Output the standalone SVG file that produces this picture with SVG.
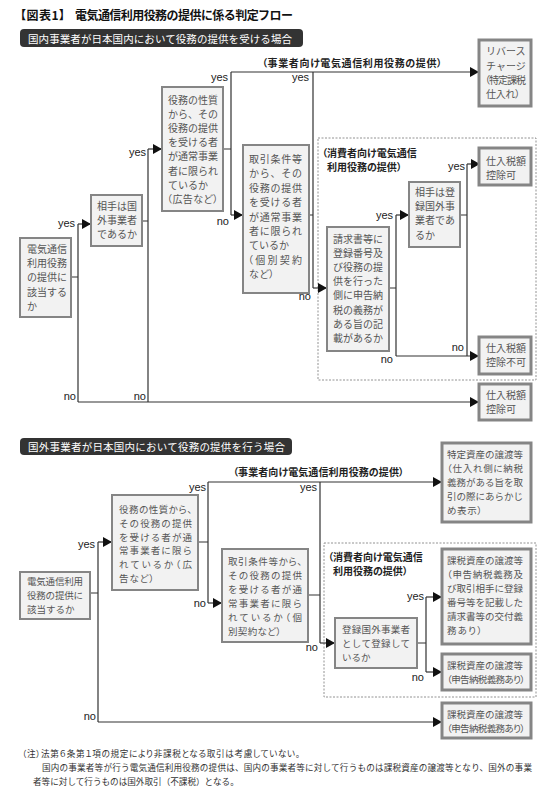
<svg xmlns="http://www.w3.org/2000/svg" width="550" height="795" viewBox="0 0 550 795">
<style>
.jp{font-family:"Noto Sans CJK JP","Noto Sans CJK SC",sans-serif;}
.p{font-feature-settings:"palt" 1;}
.ttl{font-size:12px;font-weight:bold;fill:#111;}
.hd{font-size:10.5px;fill:#fff;}
.bar{fill:#333;}
.nt{font-size:10px;fill:#555;}
.nt2{font-size:9.5px;fill:#555;}
.grp{font-size:10px;font-weight:bold;fill:#222;}
.lb{font-family:"Liberation Sans",Arial,sans-serif;font-size:11px;fill:#222;text-anchor:end;}
.box{fill:#f2f2f2;stroke:#858585;stroke-width:2;}
.out{fill:#f2f2f2;stroke:#858585;stroke-width:3;}
.ln{fill:none;stroke:#333;stroke-width:1.2;}
.ar{fill:none;stroke:#333;stroke-width:1.2;marker-end:url(#ah);}
.dash{fill:none;stroke:#777;stroke-width:0.8;stroke-dasharray:2 1.5;}
.note{font-size:8.6px;fill:#333;}
</style>
<defs>
<marker id="ah" markerUnits="userSpaceOnUse" markerWidth="9" markerHeight="10" refX="9" refY="5" orient="auto">
<path d="M0,0 L9,5 L0,10 z" fill="#111"/>
</marker>
</defs>

<g id="title" class="jp ttl">
<text class="p" x="20" y="19.5" textLength="45">【図表1】</text>
<text x="75" y="19.5" textLength="218">電気通信利用役務の提供に係る判定フロー</text>
</g>

<g id="header1">
<rect class="bar" x="20" y="29" width="283" height="18" rx="4"/>
<text class="jp hd" x="28" y="42.5" textLength="264">国内事業者が日本国内において役務の提供を受ける場合</text>
</g>

<g id="group1-consumer">
<rect class="dash" x="318" y="138" width="218" height="242"/>
<text class="jp grp p" x="322" y="156.5">（消費者向け電気通信</text>
<text class="jp grp p" x="327" y="171">利用役務の提供）</text>
</g>

<g id="connectors1">
<path class="ln" d="M71,277 H78 M78,224 V402"/>
<path class="ar" d="M78,224 H91"/>
<path class="ar" d="M78,402 H479"/>
<path class="ln" d="M142,221 H148 M148,149 V402"/>
<path class="ar" d="M148,149 H162"/>
<path class="ln" d="M223,149 H231 M231,72 V215"/>
<path class="ar" d="M231,215 H243"/>
<path class="ar" d="M231,72 H479"/>
<path class="ln" d="M309,215 H313 M313,72 V288"/>
<path class="ar" d="M313,288 H327"/>
<path class="ln" d="M389,288 H396 M396,215 V356"/>
<path class="ar" d="M396,215 H409"/>
<path class="ar" d="M396,356 H479"/>
<path class="ln" d="M460,215 H467 M467,164 V356"/>
<path class="ar" d="M467,164 H480"/>
<text class="jp grp p" x="262" y="67" textLength="180">（事業者向け電気通信利用役務の提供）</text>
<text class="lb" x="75" y="227">yes</text>
<text class="lb" x="76" y="400">no</text>
<text class="lb" x="146" y="156">yes</text>
<text class="lb" x="146" y="400">no</text>
<text class="lb" x="228" y="81">yes</text>
<text class="lb" x="229" y="225">no</text>
<text class="lb" x="309" y="81">yes</text>
<text class="lb" x="311" y="300">no</text>
<text class="lb" x="393" y="219">yes</text>
<text class="lb" x="393" y="363">no</text>
<text class="lb" x="465" y="170">yes</text>
<text class="lb" x="464" y="351">no</text>
</g>

<g id="n1-A">
<rect class="box" x="20" y="238" width="51" height="79"/>
<text class="jp nt" x="27"><tspan x="27" y="253">電気通信</tspan><tspan x="27" y="267">利用役務</tspan><tspan x="27" y="281">の提供に</tspan><tspan x="27" y="296">該当する</tspan><tspan x="27" y="310">か</tspan></text>
</g>
<g id="n1-B">
<rect class="box" x="91" y="195" width="51" height="51"/>
<text class="jp nt"><tspan x="97" y="210">相手は国</tspan><tspan x="97" y="224">外事業者</tspan><tspan x="97" y="238">であるか</tspan></text>
</g>
<g id="n1-C">
<rect class="box" x="162" y="87" width="61" height="124"/>
<text class="jp nt"><tspan x="168" y="103.5">役務の性質</tspan><tspan x="168" y="117.7">から、その</tspan><tspan x="168" y="131.9">役務の提供</tspan><tspan x="168" y="146.1">を受ける者</tspan><tspan x="168" y="160.3">が通常事業</tspan><tspan x="168" y="174.5">者に限られ</tspan><tspan x="168" y="188.7">ているか</tspan></text>
<text class="jp nt p" x="167" y="202.9" textLength="51">（広告など）</text>
</g>
<g id="n1-D" class="jp nt">
<rect class="box" x="243" y="145" width="66" height="148"/>
<text x="249" y="163" textLength="53">取引条件等</text>
<text x="249" y="177.4" textLength="53">から、その</text>
<text x="249" y="191.8" textLength="53">役務の提供</text>
<text x="249" y="206.2" textLength="53">を受ける者</text>
<text x="249" y="220.6" textLength="53">が通常事業</text>
<text x="249" y="235" textLength="53">者に限られ</text>
<text x="249" y="249.4">ているか</text>
<text class="p" x="248" y="263.8" textLength="54">（個別契約</text>
<text class="p" x="249" y="278.2" textLength="25">など）</text>
</g>
<g id="n1-E">
<rect class="box" x="327" y="227" width="62" height="124"/>
<text class="jp nt"><tspan x="333" y="242.5">請求書等に</tspan><tspan x="333" y="256.7">登録番号及</tspan><tspan x="333" y="270.9">び役務の提</tspan><tspan x="333" y="285.1">供を行った</tspan><tspan x="333" y="299.3">側に申告納</tspan><tspan x="333" y="313.5">税の義務が</tspan><tspan x="333" y="327.7">ある旨の記</tspan><tspan x="333" y="341.9">載があるか</tspan></text>
</g>
<g id="n1-F">
<rect class="box" x="409" y="182" width="51" height="65"/>
<text class="jp nt"><tspan x="415" y="196">相手は登</tspan><tspan x="415" y="210.2">録国外事</tspan><tspan x="415" y="224.4">業者であ</tspan><tspan x="415" y="238.6">るか</tspan></text>
</g>
<g id="n1-G" class="jp nt">
<rect class="out" x="479" y="148" width="52" height="37"/>
<text x="486" y="164.5" textLength="40">仕入税額</text>
<text x="486" y="178.7">控除可</text>
</g>
<g id="n1-H" class="jp nt">
<rect class="out" x="479" y="40" width="52" height="66"/>
<text x="486" y="55.3">リバース</text>
<text x="486" y="69.6">チャージ</text>
<text class="p" x="485" y="83.9" textLength="41">（特定課税</text>
<text class="p" x="486" y="98.2" textLength="34">仕入れ）</text>
</g>
<g id="n1-I" class="jp nt">
<rect class="out" x="479" y="337" width="52" height="37"/>
<text x="486" y="352" textLength="40">仕入税額</text>
<text x="486" y="366.3" textLength="40">控除不可</text>
</g>
<g id="n1-J" class="jp nt">
<rect class="out" x="479" y="384" width="52" height="36"/>
<text x="486" y="398.5" textLength="40">仕入税額</text>
<text x="486" y="412.8">控除可</text>
</g>

<g id="header2">
<rect class="bar" x="20" y="438" width="272" height="17" rx="4"/>
<text class="jp hd" x="28" y="451" textLength="257">国外事業者が日本国内において役務の提供を行う場合</text>
</g>

<g id="group2-consumer">
<rect class="dash" x="324" y="543" width="212" height="154"/>
<text class="jp grp p" x="328" y="560.5">（消費者向け電気通信</text>
<text class="jp grp p" x="333" y="575">利用役務の提供）</text>
</g>

<g id="connectors2">
<path class="ln" d="M90,593 H98 M98,542 V722"/>
<path class="ar" d="M98,542 H112"/>
<path class="ar" d="M98,722 H442"/>
<path class="ln" d="M198,542 H208 M208,482 V603"/>
<path class="ar" d="M208,603 H222"/>
<path class="ar" d="M208,482 H442"/>
<path class="ln" d="M308,595 H320 M320,482 V643"/>
<path class="ar" d="M320,643 H335"/>
<path class="ln" d="M417,643 H426 M426,597 V672"/>
<path class="ar" d="M426,597 H442"/>
<path class="ar" d="M426,672 H442"/>
<text class="jp grp p" x="233" y="476" textLength="171">（事業者向け電気通信利用役務の提供）</text>
<text class="lb" x="95" y="548">yes</text>
<text class="lb" x="96" y="720">no</text>
<text class="lb" x="206" y="491">yes</text>
<text class="lb" x="206" y="607">no</text>
<text class="lb" x="317" y="491">yes</text>
<text class="lb" x="318" y="651">no</text>
<text class="lb" x="424" y="600">yes</text>
<text class="lb" x="424" y="681">no</text>
</g>

<g id="n2-A" class="jp nt2">
<rect class="box" x="20" y="572" width="70" height="47"/>
<text x="27" y="584.5" textLength="56">電気通信利用</text>
<text x="27" y="598.6" textLength="56">役務の提供に</text>
<text x="27" y="612.7">該当するか</text>
</g>
<g id="n2-B" class="jp nt2">
<rect class="box" x="112" y="495" width="86" height="95"/>
<text class="p" x="119" y="512.5" textLength="73">役務の性質から、</text>
<text x="119" y="526.5" textLength="73">その役務の提供</text>
<text x="119" y="540.5" textLength="73">を受ける者が通</text>
<text x="119" y="554.4" textLength="73">常事業者に限ら</text>
<text class="p" x="119" y="568.4" textLength="73">れているか（広</text>
<text class="p" x="119" y="582.3" textLength="35">告など）</text>
</g>
<g id="n2-D" class="jp nt2">
<rect class="box" x="222" y="549" width="86" height="93"/>
<text class="p" x="228" y="565" textLength="74">取引条件等から、</text>
<text x="228" y="579" textLength="74">その役務の提供</text>
<text x="228" y="593" textLength="74">を受ける者が通</text>
<text x="228" y="607" textLength="74">常事業者に限ら</text>
<text class="p" x="228" y="621" textLength="74">れているか（個</text>
<text class="p" x="228" y="635" textLength="53">別契約など）</text>
</g>
<g id="n2-E" class="jp nt2">
<rect class="box" x="335" y="618" width="82" height="50"/>
<text x="342" y="633" textLength="68">登録国外事業者</text>
<text x="342" y="647" textLength="68">として登録して</text>
<text x="342" y="661">いるか</text>
</g>
<g id="n2-F" class="jp nt2">
<rect class="out" x="442" y="443" width="89" height="79"/>
<text x="447" y="457.5" textLength="76">特定資産の譲渡等</text>
<text class="p" x="447" y="471.6" textLength="76">（仕入れ側に納税</text>
<text x="447" y="485.7" textLength="76">義務がある旨を取</text>
<text x="447" y="499.8" textLength="76">引の際にあらかじ</text>
<text class="p" x="447" y="513.9" textLength="35">め表示）</text>
</g>
<g id="n2-G" class="jp nt2">
<rect class="out" x="442" y="549" width="89" height="95"/>
<text x="447" y="563.5" textLength="76">課税資産の譲渡等</text>
<text class="p" x="447" y="577.6" textLength="76">（申告納税義務及</text>
<text x="447" y="591.7" textLength="76">び取引相手に登録</text>
<text x="447" y="605.8" textLength="76">番号等を記載した</text>
<text x="447" y="619.9" textLength="76">請求書等の交付義</text>
<text class="p" x="447" y="634" textLength="35">務あり）</text>
</g>
<g id="n2-H" class="jp nt2">
<rect class="out" x="442" y="654" width="89" height="36"/>
<text x="447" y="668.6" textLength="76">課税資産の譲渡等</text>
<text class="p" x="447" y="682.7" textLength="78">（申告納税義務あり）</text>
</g>
<g id="n2-I" class="jp nt2">
<rect class="out" x="442" y="703" width="89" height="35"/>
<text x="447" y="718" textLength="76">課税資産の譲渡等</text>
<text class="p" x="447" y="732" textLength="78">（申告納税義務あり）</text>
</g>

<g id="notes" class="jp note">
<text class="p" x="22" y="757" textLength="278">（注）法第６条第１項の規定により非課税となる取引は考慮していない。</text>
<text x="42" y="771" textLength="490">国内の事業者等が行う電気通信利用役務の提供は、国内の事業者等に対して行うものは課税資産の譲渡等となり、国外の事業</text>
<text x="33" y="785">者等に対して行うものは国外取引（不課税）となる。</text>
</g>
</svg>
